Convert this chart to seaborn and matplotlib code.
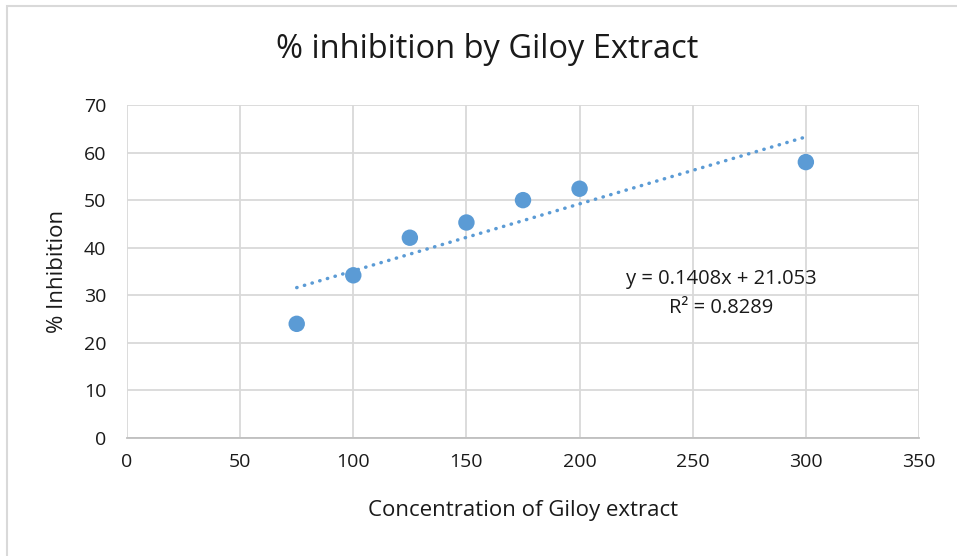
import matplotlib
matplotlib.use("Agg")
import matplotlib.pyplot as plt
import seaborn as sns
import numpy as np
import pandas as pd
from matplotlib.patches import Rectangle

concentration = [75, 100, 125, 150, 175, 200, 300]
inhibition = [24.0, 34.2, 42.1, 45.3, 50.0, 52.4, 58.0]
slope = 0.1408
intercept = 21.053
eq_label = "y = 0.1408x + 21.053"
r2_label = "R² = 0.8289"
title = "% inhibition by Giloy Extract"
xlabel = "Concentration of Giloy extract"
ylabel = "% Inhibition"
xticks = [0, 50, 100, 150, 200, 250, 300, 350]
yticks = [0, 10, 20, 30, 40, 50, 60, 70]

sns.set_theme(style="white")
plt.rcParams['font.family'] = ['Open Sans', 'DejaVu Sans']

df = pd.DataFrame({"x": concentration, "y": inhibition})
color = "#5B9BD5"
txt = "#1a1a1a"

fig = plt.figure(figsize=(9.57, 5.56), dpi=100)
ax = fig.add_axes([127/957, (556-438)/556, (919-127)/957, (438-105)/556])

# trendline
tx = np.array([min(concentration), max(concentration)])
ty = slope * tx + intercept
ax.plot(tx, ty, color=color, lw=2.5, linestyle=(0, (0.1, 2.2)), dash_capstyle="round", zorder=2)

sns.scatterplot(data=df, x="x", y="y", ax=ax, color=color, s=140, edgecolor="none", zorder=3)

ax.set_xlim(0, 350)
ax.set_ylim(0, 70)
ax.set_xticks(xticks)
ax.set_yticks(yticks)
ax.grid(True, color="#D9D9D9", lw=1.3)
ax.set_axisbelow(True)
for s in ["top", "right", "left"]:
    ax.spines[s].set_visible(False)
ax.spines["bottom"].set_color("#BFBFBF")
ax.spines["bottom"].set_linewidth(1.3)
ax.tick_params(axis="both", length=0, labelsize=14, colors=txt)
ax.tick_params(axis="x", pad=11)
ax.tick_params(axis="y", pad=15)
ax.set_xlabel(xlabel, fontsize=16, color=txt, labelpad=21)
ax.set_ylabel(ylabel, fontsize=16, color=txt, labelpad=11)

fig.text(487/957, 1 - 50/556, title, ha="center", va="center", fontsize=23.5, color=txt)
fig.text(721/957, 1 - 279/556, eq_label, fontsize=14.5, color=txt, ha="center", va="center",
         fontstretch="normal")
fig.text(721/957, 1 - 308/556, r2_label, fontsize=14.5, color=txt, ha="center", va="center",
         fontstretch="normal")

# chart border
fig.patches.append(Rectangle((7/957, -0.05), 1.1, 1 - 6/556 + 0.05, transform=fig.transFigure,
                             fill=False, edgecolor="#D9D9D9", lw=1.5))

fig.savefig("out.png", dpi=100)
